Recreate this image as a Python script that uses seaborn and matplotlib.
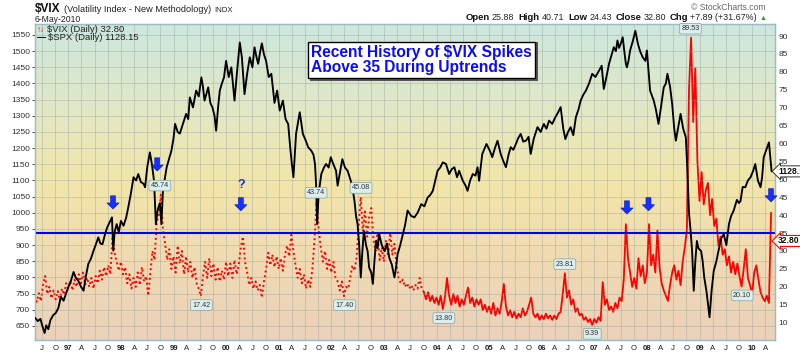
import numpy as np
import matplotlib
matplotlib.use("Agg")
import matplotlib.pyplot as plt
import seaborn as sns
from matplotlib.colors import LinearSegmentedColormap
from matplotlib.patches import Rectangle

# ---------------- data ----------------
spx_t = [
    1996.37, 1996.42, 1996.47, 1996.51, 1996.55, 1996.58, 1996.62, 1996.66, 1996.71, 1996.76, 1996.81, 1996.86, 1996.91, 1996.96,
    1997.00, 1997.05, 1997.10, 1997.14, 1997.19, 1997.24, 1997.29, 1997.33, 1997.38, 1997.43, 1997.48, 1997.53, 1997.57, 1997.61, 1997.65, 1997.70, 1997.74, 1997.79, 1997.83, 1997.855, 1997.88, 1997.92, 1997.96,
    1998.00, 1998.05, 1998.10, 1998.14, 1998.19, 1998.24, 1998.29, 1998.33, 1998.38, 1998.43, 1998.46, 1998.50, 1998.55, 1998.59, 1998.63, 1998.665, 1998.70, 1998.74, 1998.77, 1998.80, 1998.84, 1998.87, 1998.92, 1998.96,
    1999.00, 1999.03, 1999.08, 1999.12, 1999.18, 1999.24, 1999.28, 1999.31, 1999.37, 1999.43, 1999.48, 1999.53, 1999.56, 1999.59, 1999.63, 1999.66, 1999.70, 1999.74, 1999.78, 1999.81, 1999.85, 1999.88, 1999.92, 1999.96,
    2000.00, 2000.05, 2000.10, 2000.13, 2000.16, 2000.21, 2000.26, 2000.30, 2000.35, 2000.40, 2000.45, 2000.50, 2000.54, 2000.58, 2000.61, 2000.65, 2000.68, 2000.72, 2000.76, 2000.81, 2000.86, 2000.92, 2000.97,
    2001.02, 2001.08, 2001.13, 2001.18, 2001.22, 2001.25, 2001.28, 2001.33, 2001.40, 2001.46, 2001.51, 2001.56, 2001.62, 2001.66, 2001.69, 2001.71, 2001.73, 2001.76, 2001.81, 2001.86, 2001.90, 2001.95,
    2001.99, 2002.04, 2002.09, 2002.12, 2002.16, 2002.21, 2002.26, 2002.31, 2002.37, 2002.41, 2002.44, 2002.47, 2002.50, 2002.53, 2002.56, 2002.59, 2002.62, 2002.66, 2002.69, 2002.72, 2002.76, 2002.79, 2002.82, 2002.85, 2002.88, 2002.91, 2002.96,
    2003.01, 2003.06, 2003.10, 2003.15, 2003.20, 2003.23, 2003.26, 2003.31, 2003.36, 2003.40, 2003.45, 2003.52, 2003.58, 2003.64, 2003.71, 2003.77, 2003.83, 2003.88, 2003.93,
    2004.02, 2004.07, 2004.12, 2004.18, 2004.24, 2004.29, 2004.34, 2004.39, 2004.43, 2004.50, 2004.55, 2004.59, 2004.64, 2004.69, 2004.74, 2004.78, 2004.81, 2004.87, 2004.95,
    2005.02, 2005.06, 2005.11, 2005.16, 2005.22, 2005.27, 2005.32, 2005.37, 2005.41, 2005.46, 2005.51, 2005.55, 2005.60, 2005.65, 2005.70, 2005.75, 2005.79, 2005.85, 2005.92, 2005.98,
    2006.04, 2006.09, 2006.14, 2006.20, 2006.26, 2006.31, 2006.36, 2006.41, 2006.45, 2006.50, 2006.55, 2006.60, 2006.65, 2006.70, 2006.74, 2006.79, 2006.84, 2006.90, 2006.96,
    2007.02, 2007.09, 2007.14, 2007.18, 2007.23, 2007.28, 2007.33, 2007.37, 2007.41, 2007.44, 2007.47, 2007.50, 2007.54, 2007.57, 2007.60, 2007.62, 2007.65, 2007.68, 2007.73, 2007.78, 2007.83, 2007.87, 2007.92, 2007.97,
    2008.00, 2008.03, 2008.06, 2008.10, 2008.13, 2008.17, 2008.22, 2008.27, 2008.32, 2008.36, 2008.39, 2008.44, 2008.48, 2008.52, 2008.55, 2008.60, 2008.64, 2008.69, 2008.74, 2008.77, 2008.80, 2008.83, 2008.86, 2008.89, 2008.92, 2008.95, 2008.98,
    2009.03, 2009.06, 2009.09, 2009.13, 2009.16, 2009.19, 2009.23, 2009.27, 2009.32, 2009.36, 2009.41, 2009.46, 2009.51, 2009.56, 2009.60, 2009.65, 2009.71, 2009.75, 2009.78, 2009.82, 2009.87, 2009.92, 2009.97,
    2010.02, 2010.06, 2010.11, 2010.16, 2010.19, 2010.22, 2010.27, 2010.32, 2010.37,
]
spx_v = [
    675, 665, 672, 648, 628, 652, 640, 668, 683, 690, 705, 740, 728, 752,
    770, 790, 817, 800, 790, 772, 759, 800, 842, 858, 883, 905, 924, 905, 903, 935, 955, 972, 986, 883, 940, 965, 940,
    975, 960, 985, 1017, 1060, 1110, 1100, 1120, 1095, 1090, 1079, 1140, 1187, 1150, 1099, 965, 1010, 1030, 965, 1070, 1110, 1141, 1170, 1192,
    1230, 1275, 1250, 1245, 1275, 1306, 1290, 1357, 1326, 1378, 1360, 1419, 1390, 1347, 1370, 1388, 1340, 1326, 1300, 1254, 1330, 1378, 1400, 1419,
    1470, 1420, 1450, 1400, 1347, 1440, 1527, 1481, 1367, 1430, 1481, 1450, 1512, 1480, 1461, 1500, 1524, 1490, 1470, 1420, 1430, 1340, 1378,
    1316, 1347, 1290, 1275, 1200, 1151, 1110, 1244, 1311, 1244, 1225, 1203, 1192, 1180, 1151, 1090, 965, 1060, 1120, 1140, 1151, 1140,
    1172, 1150, 1130, 1084, 1120, 1166, 1140, 1130, 1099, 1070, 1037, 990, 965, 900, 800, 880, 944, 900, 882, 830, 815, 780, 850, 913, 890, 934, 900,
    882, 905, 862, 840, 800, 830, 872, 900, 934, 960, 1007, 990, 986, 1000, 1027, 1020, 1047, 1055, 1068,
    1130, 1140, 1156, 1151, 1120, 1135, 1141, 1110, 1130, 1099, 1085, 1068, 1100, 1120, 1115, 1141, 1099, 1182, 1213,
    1190, 1172, 1200, 1223, 1182, 1160, 1141, 1180, 1203, 1195, 1213, 1230, 1244, 1220, 1223, 1235, 1182, 1230, 1265, 1250,
    1275, 1260, 1285, 1275, 1296, 1310, 1327, 1260, 1228, 1250, 1265, 1240, 1296, 1320, 1347, 1365, 1378, 1400, 1430,
    1420, 1440, 1455, 1383, 1420, 1461, 1490, 1512, 1500, 1533, 1510, 1522, 1543, 1500, 1461, 1450, 1470, 1502, 1530, 1563, 1522, 1500, 1481, 1470,
    1502, 1440, 1378, 1360, 1347, 1320, 1275, 1330, 1388, 1400, 1430, 1390, 1337, 1260, 1223, 1270, 1306, 1260, 1233, 1130, 1000, 945, 880, 759, 850, 913, 890,
    882, 850, 800, 760, 720, 677, 760, 820, 850, 882, 920, 934, 900, 965, 990, 1007, 1040, 1030, 1037, 1080, 1079, 1100, 1110,
    1130, 1151, 1100, 1079, 1110, 1172, 1195, 1218, 1128.15,
]

# VIX sampled every 0.04 year starting mid-May 1996
vix_start, vix_step = 1996.36, 0.04
vix_v = [
    17.5, 15.8, 18.2, 16.0, 20.5, 23.0, 18.0, 20.0, 16.8, 19.0, 16.5, 18.8, 16.2, 19.5, 17.8, 21.0,
    19.5, 21.5, 19.0, 22.0, 20.0, 23.5, 21.0, 24.0, 20.5, 22.5, 20.0, 22.5, 19.5, 23.0, 21.0, 24.5, 22.0, 25.5, 23.0, 26.0, 23.5, 34.0, 29.5, 27.0, 24.5,
    27.0, 23.5, 25.5, 21.0, 23.5, 19.5, 22.5, 20.0, 24.0, 20.5, 25.5, 21.5, 23.0, 17.5, 24.0, 30.0, 27.5, 38.0, 40.0, 45.74, 36.0, 32.0, 27.5, 30.5, 25.0,
    28.5, 24.0, 31.5, 26.5, 30.0, 23.5, 28.5, 24.0, 27.0, 22.5, 25.5, 21.0, 19.5, 17.42, 23.0, 27.0, 22.5, 28.0, 23.0, 26.5, 22.0, 25.5, 21.5, 24.5, 22.0,
    27.0, 23.0, 26.5, 22.5, 27.5, 23.5, 26.0, 31.0, 34.0, 27.0, 24.0, 20.5, 22.5, 19.5, 21.5, 19.0, 20.5, 17.0, 21.5, 25.0, 29.5, 26.0, 29.0, 25.5, 28.5,
    25.0, 28.0, 24.5, 29.0, 31.5, 28.5, 34.5, 30.0, 26.0, 22.5, 25.0, 21.0, 23.5, 19.5, 22.0, 20.0, 25.0, 33.0, 43.74, 36.0, 31.0, 27.0, 30.0, 25.0, 27.5,
    24.0, 27.0, 22.5, 21.5, 19.0, 21.5, 17.40, 20.0, 19.5, 22.5, 26.0, 24.5, 28.0, 37.0, 45.08, 35.5, 41.0, 34.0, 39.5, 42.0, 33.5, 30.0, 35.0, 27.5, 31.0,
    27.0, 33.0, 28.5, 35.0, 29.0, 32.0, 26.0, 22.5, 21.0, 22.0, 20.0, 21.0, 19.5, 20.5, 19.0, 20.5, 19.5, 22.5, 19.5, 18.5, 16.5, 18.5, 16.0, 17.5, 15.5,
    17.0, 15.0, 17.5, 13.8, 17.0, 22.5, 17.5, 15.0, 18.0, 15.5, 17.5, 14.5, 16.5, 15.0, 17.5, 19.8, 15.5, 17.0, 14.5, 16.5, 15.0, 16.5, 13.5, 15.0, 13.0,
    14.5, 12.5, 15.5, 12.0, 14.0, 12.5, 16.0, 20.8, 14.5, 12.0, 13.5, 11.5, 13.0, 11.2, 12.5, 11.5, 14.0, 12.0, 13.0, 15.0, 17.0, 12.5, 11.5, 12.5, 10.8,
    12.0, 11.0, 12.5, 11.2, 12.0, 10.8, 12.0, 11.0, 12.5, 13.0, 18.0, 23.81, 17.0, 19.0, 15.0, 16.5, 13.0, 14.0, 12.0, 12.5, 10.8, 11.5, 10.2, 11.0, 9.39,
    11.0, 10.0, 11.5, 10.5, 21.3, 15.0, 16.5, 13.5, 14.5, 13.0, 15.5, 14.0, 17.0, 16.0, 22.0, 37.5, 28.0, 24.0, 20.0, 22.5, 19.5, 28.0, 23.0, 26.0, 21.0,
    24.0, 37.5, 26.0, 29.0, 24.0, 35.7, 25.5, 21.0, 19.0, 17.5, 16.1, 20.5, 24.0, 26.0, 22.0, 24.5, 20.5, 27.0, 31.0, 36.0, 75.0, 89.53, 66.0, 81.0, 55.0,
    44.0, 52.0, 43.0, 47.0, 49.0, 40.0, 44.5, 37.0, 39.0, 31.5, 34.0, 29.0, 30.5, 26.0, 28.5, 24.0, 27.0, 23.5, 26.5, 23.0, 20.1, 25.0, 30.5, 22.5, 20.5,
    18.0, 24.0, 26.0, 22.0, 18.5, 17.0, 16.0, 17.5, 15.5, 40.71,
]
vix_t = [round(vix_start + i * vix_step, 3) for i in range(len(vix_v))]
vix_solid_from = 2003.76          # before this date the VIX is drawn dotted
vix_threshold = 35
spx_last, vix_last = 1128.15, 32.80

spx_ticks = list(range(650, 1551, 50))
vix_ticks = list(range(10, 91, 5))

# labelled extremes: (date, value, side)
callouts = [(1998.74, 45.74, "up"), (1999.53, 17.42, "down"), (2001.71, 43.74, "up"),
            (2002.25, 17.40, "down"), (2002.565, 45.08, "up"), (2004.14, 13.80, "down"),
            (2006.44, 23.81, "up"), (2006.96, 9.39, "down"), (2008.825, 89.53, "up"),
            (2009.81, 20.10, "down")]
# blue marker arrows: (date, VIX level of the arrow tip)
arrow_marks = [(1997.85, 41.7), (1998.69, 52.3), (2000.28, 41.2),
               (2007.62, 40.3), (2008.03, 41.2), (2010.36, 43.7)]

# ---------------- figure ----------------
sns.set_style("white")
plt.rcParams["font.family"] = ["Liberation Sans", "DejaVu Sans"]

W, H = 800, 354
fig = plt.figure(figsize=(W / 100, H / 100), dpi=100)
fig.patch.set_facecolor("white")
L, T, R, B = 35, 24, 775, 340
ax = fig.add_axes([L / W, 1 - B / H, (R - L) / W, (B - T) / H])   # VIX (right scale)
ax2 = ax.twinx()                                                  # SPX (left scale)

XMIN, XMAX = 1996.367, 2010.435
VMIN, VMAX = 5.16, 93.35
SMIN, SMAX = 606.6, 1584.0

# background gradient
cmap = LinearSegmentedColormap.from_list(
    "bg", [(0.0, "#cde7df"), (0.28, "#e3e8c4"), (0.5, "#f2e6a9"),
           (0.72, "#f0dcb2"), (1.0, "#ebd1b9")])
grad = np.linspace(0, 1, 256).reshape(-1, 1)
ax.imshow(grad, extent=[0, 1, 0, 1], transform=ax.transAxes, aspect="auto",
          cmap=cmap, zorder=0, interpolation="bilinear")

# VIX
dotted_t = [t for t in vix_t if t <= vix_solid_from]
dotted_v = vix_v[:len(dotted_t)]
solid_t = vix_t[len(dotted_t) - 1:]
solid_v = vix_v[len(dotted_t) - 1:]
sns.lineplot(x=dotted_t, y=dotted_v, ax=ax, color="#ff0000", lw=1.4,
             linestyle=(0, (1, 1.5)), estimator=None, sort=False, zorder=3)
sns.lineplot(x=solid_t, y=solid_v, ax=ax, color="#ff0000", lw=1.3,
             estimator=None, sort=False, zorder=3)
ax.axhline(vix_threshold, color="#0000ff", lw=1.5, zorder=4)

# SPX
sns.lineplot(x=spx_t, y=spx_v, ax=ax2, color="black", lw=1.35,
             estimator=None, sort=False, zorder=3)

ax.set_xlim(XMIN, XMAX)
ax.set_ylim(VMIN, VMAX)
ax2.set_ylim(SMIN, SMAX)
ax.set_xlabel("")
ax.set_ylabel("")
ax2.set_ylabel("")

# x ticks: quarters
qt, ql, qbold = [], [], []
letters = {1: "A", 2: "J", 3: "O"}
for yr in range(1996, 2011):
    for q in range(4):
        t = yr + q * 0.25
        if XMIN < t < XMAX:
            qt.append(t)
            ql.append(f"{yr % 100:02d}" if q == 0 else letters[q])
            qbold.append(q == 0)
ax.set_xticks(qt)
ax.set_xticklabels(ql)
for lab, b in zip(ax.get_xticklabels(), qbold):
    lab.set_fontweight("bold" if b else "normal")
ax.tick_params(axis="x", length=0, pad=3.5, labelsize=5.6, colors="#222222")

# y ticks
ax.set_yticks(vix_ticks)
ax.yaxis.tick_right()
ax.tick_params(axis="y", which="both", right=True, left=False, labelright=True,
               labelleft=False, length=0, pad=2.5, labelsize=6, colors="#333333")
ax2.set_yticks(spx_ticks)
ax2.yaxis.tick_left()
ax2.tick_params(axis="y", left=True, right=False, labelleft=True, labelright=False,
                length=2.5, width=0.6, pad=1, labelsize=6, colors="#333333")

# grids
ax.grid(True, axis="x", color="#8c9a96", alpha=0.35, lw=0.7)
ax.grid(False, axis="y")
ax2.grid(True, axis="y", color="#8c9a96", alpha=0.35, lw=0.7, zorder=1)
ax2.grid(False, axis="x")
ax.set_axisbelow(True)

for a in (ax, ax2):
    for s in a.spines.values():
        s.set_color("#9fbcc2")
        s.set_linewidth(0.9)

# callout boxes
for t, v, side in callouts:
    off = 9 if side == "up" else -9
    ax2.annotate(f"{v:.2f}", xy=(t, v), xycoords=ax.transData,
                 xytext=(0, off), textcoords="offset pixels", ha="center", va="center",
                 fontsize=5.2, color="#333333", zorder=6,
                 bbox=dict(boxstyle="round,pad=0.25", fc="#dcefee", ec="#86a3a3", lw=0.5))

# blue arrows
for t, tip in arrow_marks:
    ax2.annotate("", xy=(t, tip), xycoords=ax.transData,
                 xytext=(t, tip + 3.7), textcoords=ax.transData,
                 arrowprops=dict(arrowstyle="simple,head_length=0.55,head_width=1.1,tail_width=0.45",
                                 fc="#1530ff", ec="#0a18b0", lw=0.4, mutation_scale=8,
                                 shrinkA=0, shrinkB=0), zorder=7)
ax2.text(2000.28, 48.3, "?", transform=ax.transData, ha="center", va="center",
         fontsize=9, fontweight="bold", color="#1530ff", zorder=7)

# right-edge last value labels
ax2.annotate(f"{spx_last:.2f}", xy=(1.0, spx_last), xycoords=("axes fraction", "data"),
             xytext=(3, 0), textcoords="offset pixels", ha="left", va="center",
             fontsize=6.2, fontweight="bold", color="#111111", annotation_clip=False,
             bbox=dict(boxstyle="larrow,pad=0.12", fc="white", ec="#333333", lw=0.7))
ax2.annotate(f"{vix_last:.2f}", xy=(1.0, vix_last), xycoords=ax.get_yaxis_transform(),
             xytext=(3, 0), textcoords="offset pixels", ha="left", va="center",
             fontsize=6.2, fontweight="bold", color="#111111", annotation_clip=False,
             bbox=dict(boxstyle="larrow,pad=0.12", fc="white", ec="#ff0000", lw=0.8))

# title box with shadow (shadow is a plain rectangle)
fig.patches.append(Rectangle((310 / W, 1 - 81 / H), 228 / W, 39 / H,
                             transform=fig.transFigure, fc="#555555", ec="none",
                             zorder=8))
fig.text(311 / W, 1 - 60 / H, "Recent History of $VIX Spikes\nAbove 35 During Uptrends",
         ha="left", va="center", fontsize=11.2, fontweight="bold", color="#0a0aff",
         linespacing=0.98, zorder=10,
         bbox=dict(boxstyle="square,pad=0.22", fc="white", ec="black", lw=1))

# ---------------- header / legend texts ----------------
renderer = fig.canvas.get_renderer()


def seq(pieces, x, y, right=False):
    objs = []
    for s, size, weight, color, gap in pieces:
        o = fig.text(0, 1 - y / H, s, fontsize=size, fontweight=weight, color=color,
                     va="baseline", ha="left", zorder=10)
        objs.append((o, gap))
    widths = [o.get_window_extent(renderer).width for o, _ in objs]
    total = sum(widths) + sum(g for _, g in objs)
    cur = x - total if right else x
    for (o, gap), w in zip(objs, widths):
        cur += gap
        o.set_x(cur / W)
        cur += w


seq([("$VIX", 8.6, "bold", "#111111", 0),
     ("(Volatility Index - New Methodology)", 6.6, "normal", "#222222", 3),
     ("INDX", 5.6, "normal", "#222222", 4)], 35, 11.5)
seq([("6-May-2010", 6.2, "normal", "#222222", 0)], 35, 21.5)
seq([("\u00a9 StockCharts.com", 6.2, "normal", "#666666", 0)], 766, 9.5, right=True)
seq([("Open", 6.8, "bold", "#111111", 0), ("25.88", 6.4, "normal", "#222222", 2),
     ("High", 6.8, "bold", "#111111", 4), ("40.71", 6.4, "normal", "#222222", 2),
     ("Low", 6.8, "bold", "#111111", 4), ("24.43", 6.4, "normal", "#222222", 2),
     ("Close", 6.8, "bold", "#111111", 4), ("32.80", 6.4, "normal", "#222222", 2),
     ("Chg", 6.8, "bold", "#111111", 4), ("+7.89 (+31.67%)", 6.4, "normal", "#222222", 2),
     ("\u25b2", 5, "normal", "#1a9a1a", 2)], 766, 20.5, right=True)

# legend inside plot
seq([("\u2191\u2193", 5.8, "bold", "#ff0000", 0),
     ("$VIX (Daily) 32.80", 6.8, "normal", "#222222", 2)], 37, 31.5)
seq([("\u2014", 6.5, "bold", "#000000", 0),
     ("$SPX (Daily) 1128.15", 6.8, "normal", "#222222", 2)], 37, 40)

fig.savefig("out.png", dpi=100)
